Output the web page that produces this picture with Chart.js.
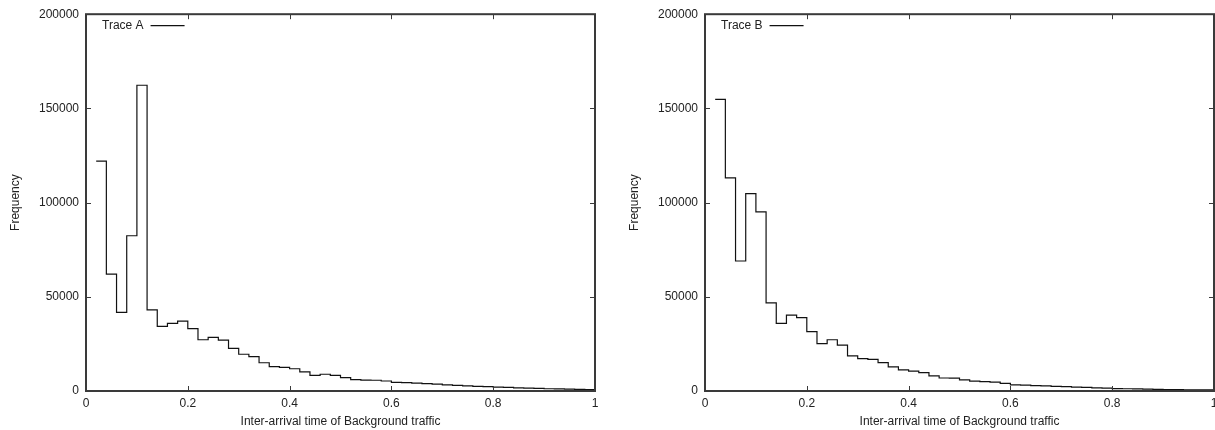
<!DOCTYPE html>
<html>
<head>
<meta charset="utf-8">
<script src="https://cdn.jsdelivr.net/npm/chart.js@4/dist/chart.umd.min.js"></script>
<style>
    html, body { margin: 0; padding: 0; background: #fff; overflow: hidden; }
    .panel { position: absolute; top: 0; width: 610px; height: 430px; }
    #panelA { left: 0; }
    #panelB { left: 619px; }
</style>
</head>
<body>
<div class="panel" id="panelA"><canvas id="graficoA" width="610" height="430"></canvas></div>
<div class="panel" id="panelB"><canvas id="graficoB" width="610" height="430"></canvas></div>
<script>
// ==============================================
// Histogramas de tiempos entre llegadas
// ==============================================

// Bordes de los intervalos (inicio de cada barra, el último cierra en 1)
const bordesIntervalo = [
    0.02, 0.04, 0.06, 0.08, 0.10, 0.12, 0.14, 0.16, 0.18, 0.20,
    0.22, 0.24, 0.26, 0.28, 0.30, 0.32, 0.34, 0.36, 0.38, 0.40,
    0.42, 0.44, 0.46, 0.48, 0.50, 0.52, 0.54, 0.56, 0.58, 0.60,
    0.62, 0.64, 0.66, 0.68, 0.70, 0.72, 0.74, 0.76, 0.78, 0.80,
    0.82, 0.84, 0.86, 0.88, 0.90, 0.92, 0.94, 0.96, 0.98, 1.00
];

// Frecuencias (una por intervalo)
const frecuenciasA = [
    122000, 62000, 41700, 82400, 162300, 43100, 34300, 35900, 37100, 33100,
    27200, 28500, 27000, 22600, 19500, 18200, 15000, 12900, 12500, 11800,
    10200, 8300, 8900, 8300, 7100, 6000, 5800, 5700, 5300, 4600,
    4400, 4200, 3900, 3600, 3300, 3000, 2700, 2500, 2300, 2100,
    1900, 1700, 1500, 1400, 1200, 1100, 1000, 900, 800
];

const frecuenciasB = [
    154800, 113100, 69000, 104800, 95100, 46800, 35900, 40300, 38900, 31500,
    25100, 27200, 24400, 18600, 17200, 16800, 15100, 12800, 11200, 10600,
    9800, 8000, 6900, 6800, 5900, 5200, 5000, 4700, 4100, 3200,
    3100, 2900, 2700, 2500, 2300, 2100, 1900, 1700, 1500, 1300,
    1200, 1100, 1000, 900, 800, 700, 650, 600, 550
];

// Marcas de los ejes
const marcasX = [0, 0.2, 0.4, 0.6, 0.8, 1];
const marcasY = [0, 50000, 100000, 150000, 200000];

const tituloX = 'Inter-arrival time of Background traffic';
const tituloY = 'Frequency';

const FUENTE = '"Liberation Sans", Arial, Helvetica, sans-serif';
const COLOR_TEXTO = '#222';
const COLOR_MARCO = '#3a3a3a';

/**
 * Dibuja el marco del área, las marcas hacia dentro (estilo gnuplot)
 * y la leyenda con el texto antes de la muestra de línea
 */
const marcoGnuplot = {
    id: 'marcoGnuplot',
    afterDatasetsDraw: function(chart) {
        let ctx = chart.ctx;
        let area = chart.chartArea;
        let escX = chart.scales.x;
        let escY = chart.scales.y;
        let largo = 5;

        ctx.save();
        ctx.strokeStyle = COLOR_MARCO;
        ctx.lineWidth = 1;
        ctx.beginPath();
        marcasX.forEach(v => {
            let px = Math.round(escX.getPixelForValue(v)) + 0.5;
            ctx.moveTo(px, area.bottom);
            ctx.lineTo(px, area.bottom - largo);
            ctx.moveTo(px, area.top);
            ctx.lineTo(px, area.top + largo);
        });
        marcasY.forEach(v => {
            let py = Math.round(escY.getPixelForValue(v)) + 0.5;
            ctx.moveTo(area.left, py);
            ctx.lineTo(area.left + largo, py);
            ctx.moveTo(area.right, py);
            ctx.lineTo(area.right - largo, py);
        });
        ctx.stroke();

        ctx.lineWidth = 2;
        ctx.strokeRect(area.left, area.top, area.right - area.left, area.bottom - area.top);

        // Leyenda
        let ds = chart.data.datasets[0];
        ctx.font = '12px ' + FUENTE;
        ctx.fillStyle = COLOR_TEXTO;
        ctx.textBaseline = 'middle';
        ctx.textAlign = 'left';
        let tx = area.left + 16;
        let ty = area.top + 11;
        ctx.fillText(ds.label, tx, ty);
        let ancho = ctx.measureText(ds.label).width;
        ctx.strokeStyle = ds.borderColor;
        ctx.lineWidth = 1.2;
        ctx.beginPath();
        ctx.moveTo(tx + ancho + 7, ty + 0.5);
        ctx.lineTo(tx + ancho + 41, ty + 0.5);
        ctx.stroke();
        ctx.restore();
    }
};

const Histogramas = {
    graficos: [],

    /**
     * Construye los puntos del escalón a partir de bordes y frecuencias
     */
    puntos: function(frecuencias) {
        return bordesIntervalo.map((x, i) => ({
            x: x,
            y: frecuencias[Math.min(i, frecuencias.length - 1)]
        }));
    },

    /**
     * Crea un gráfico de histograma en escalones
     */
    crear: function(idCanvas, etiqueta, frecuencias) {
        let ctx = document.getElementById(idCanvas).getContext('2d');
        let fuenteBase = { family: FUENTE, size: 12 };

        return new Chart(ctx, {
            type: 'line',
            data: {
                datasets: [{
                    label: etiqueta,
                    data: this.puntos(frecuencias),
                    // tramo horizontal primero y luego el salto vertical
                    stepped: 'before',
                    borderColor: '#111',
                    borderWidth: 1.2,
                    pointRadius: 0,
                    fill: false
                }]
            },
            options: {
                responsive: false,
                animation: false,
                devicePixelRatio: 1,
                layout: { padding: { top: 14, right: 15, left: 0, bottom: 0 } },
                plugins: {
                    legend: { display: false },
                    tooltip: { enabled: false }
                },
                scales: {
                    x: {
                        type: 'linear',
                        min: 0,
                        max: 1,
                        afterBuildTicks: (esc) => { esc.ticks = marcasX.map(v => ({ value: v })); },
                        afterFit: (esc) => { esc.height = 39; },
                        grid: { display: false, drawTicks: false },
                        border: { display: false },
                        ticks: {
                            padding: 5,
                            color: COLOR_TEXTO,
                            font: fuenteBase,
                            maxRotation: 0,
                            callback: (v) => String(Number(v.toFixed(2)))
                        },
                        title: {
                            display: true,
                            text: tituloX,
                            color: COLOR_TEXTO,
                            font: fuenteBase,
                            padding: { top: 0, bottom: 1 }
                        }
                    },
                    y: {
                        min: 0,
                        max: 200000,
                        afterBuildTicks: (esc) => { esc.ticks = marcasY.map(v => ({ value: v })); },
                        afterFit: (esc) => { esc.width = 86; },
                        grid: { display: false, drawTicks: false },
                        border: { display: false },
                        ticks: {
                            padding: 7,
                            color: COLOR_TEXTO,
                            font: fuenteBase,
                            callback: (v) => String(v)
                        },
                        title: {
                            display: true,
                            text: tituloY,
                            color: COLOR_TEXTO,
                            font: fuenteBase,
                            padding: { top: 8, bottom: 0 }
                        }
                    }
                }
            },
            plugins: [marcoGnuplot]
        });
    },

    init: function() {
        this.graficos.push(this.crear('graficoA', 'Trace A', frecuenciasA));
        this.graficos.push(this.crear('graficoB', 'Trace B', frecuenciasB));
    }
};

Histogramas.init();
</script>
</body>
</html>
